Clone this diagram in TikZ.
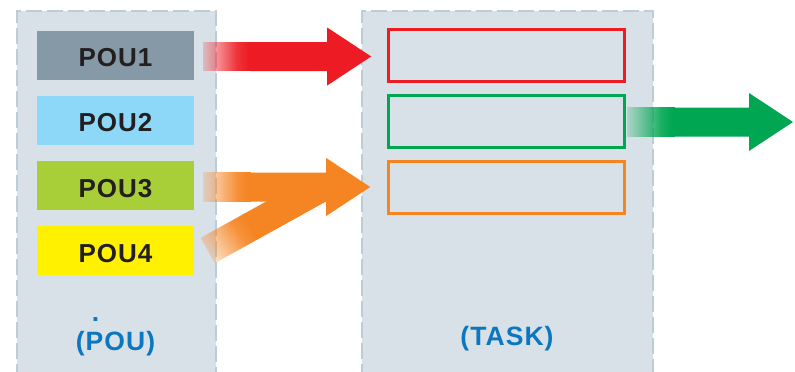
\documentclass[tikz,border=0pt]{standalone}
\usepackage{fontspec}
\setmainfont{Liberation Sans}
\newfontfamily\lbfont[LetterSpace=4]{Liberation Sans}
\usetikzlibrary{fadings,calc}
\definecolor{panelfill}{HTML}{D9E1E8}
\definecolor{paneldash}{HTML}{BCCDD7}
\definecolor{pouA}{HTML}{8599A6}
\definecolor{pouB}{HTML}{8DD8F8}
\definecolor{pouC}{HTML}{A8CF38}
\definecolor{pouD}{HTML}{FFF100}
\definecolor{textdark}{HTML}{231F20}
\definecolor{textblue}{HTML}{0B77C0}
\definecolor{arred}{HTML}{ED1C24}
\definecolor{argreen}{HTML}{00A651}
\definecolor{arorange}{HTML}{F58423}
\pgfdeclarehorizontalshading{myfadeshade}{100bp}{color(0bp)=(black!80); color(25bp)=(black!80); color(45bp)=(black!40); color(60bp)=(black!10); color(72bp)=(white); color(100bp)=(white)}
\pgfdeclarefading{fadein}{\pgfuseshading{myfadeshade}}
\newcommand\fadearrow[4]{%
  \begin{scope}[shift={(#2)}, rotate=#3]
    \fill[#1, path fading=fadein] (0,-14.5) rectangle (48,14.5);
    \fill[#1] (47,-14.5) -- (#4,-14.5) -- (#4,-29) -- (#4+44,0) -- (#4,29) -- (#4,14.5) -- (47,14.5) -- cycle;
  \end{scope}}
\begin{document}
\begin{tikzpicture}[x=1pt,y=-1pt,
  panelborder/.style={paneldash, line width=2.6pt, dash pattern=on 16pt off 5pt},
  poubox/.style={minimum width=157pt, minimum height=49pt, inner sep=0pt},
  poulabel/.style={anchor=base, inner sep=0pt, text=textdark,
    font=\lbfont\bfseries\fontsize{26}{30}\selectfont},
  taskbox/.style={draw, line width=3pt, minimum width=236pt, minimum height=52pt, inner sep=0pt},
  caption/.style={anchor=base, text=textblue, inner sep=0pt,
    font=\lbfont\bfseries\fontsize{26.5}{30}\selectfont}]
\useasboundingbox (0,0) rectangle (795,372);
% panels
\fill[panelfill] (17,11) rectangle (216,380);
\draw[panelborder] (17,380) -- (17,11) -- (216,11) -- (216,380);
\fill[panelfill] (362,11) rectangle (653,380);
\draw[panelborder] (362,380) -- (362,11) -- (653,11) -- (653,380);
% POU boxes
\node[poubox, fill=pouA] (pou1) at (115.5,55.5) {};
\node[poubox, fill=pouB] (pou2) at (115.5,120.5) {};
\node[poubox, fill=pouC] (pou3) at (115.5,185.5) {};
\node[poubox, fill=pouD] (pou4) at (115.5,250.5) {};
\node[poulabel] (pou1l) at ($(pou1.center)+(0,11.2)$) {POU1};
\node[poulabel] (pou2l) at ($(pou2.center)+(0,10.8)$) {POU2};
\node[poulabel] (pou3l) at ($(pou3.center)+(0,11.5)$) {POU3};
\node[poulabel] (pou4l) at ($(pou4.center)+(0,11.8)$) {POU4};
% task boxes
\node[taskbox, draw=arred] (t1) at (506,55.5) {};
\node[taskbox, draw=argreen] (t2) at (506,121.5) {};
\node[taskbox, draw=arorange] (t3) at (506,187) {};
% captions
\node[caption] (cpou) at (115.5,350) {(POU)};
\node[caption] (cdot) at (95.5,321.5) {.};
\node[caption] (ctask) at (507,345) {(TASK)};
% arrows
\coordinate (a1) at ($(pou1.east)+(9,1)$);
\coordinate (a3) at ($(pou3.east)+(9,1.5)$);
\coordinate (a4) at ($(pou4.east)+(13.5,0)$);
\coordinate (a2) at ($(t2.east)+(1.5,0.5)$);
\fadearrow{arred}{a1}{0}{124}
\begin{scope}[shift={(a4)}, rotate=29]
  \fill[arorange, path fading=fadein, fading angle=29] (0,-14.5) rectangle (50,14.5);
  \fill[arorange] (49,-14.5) rectangle (128,14.5);
\end{scope}
\fadearrow{arorange}{a3}{0}{123}
\fadearrow{argreen}{a2}{0}{122}
\end{tikzpicture}
\end{document}
